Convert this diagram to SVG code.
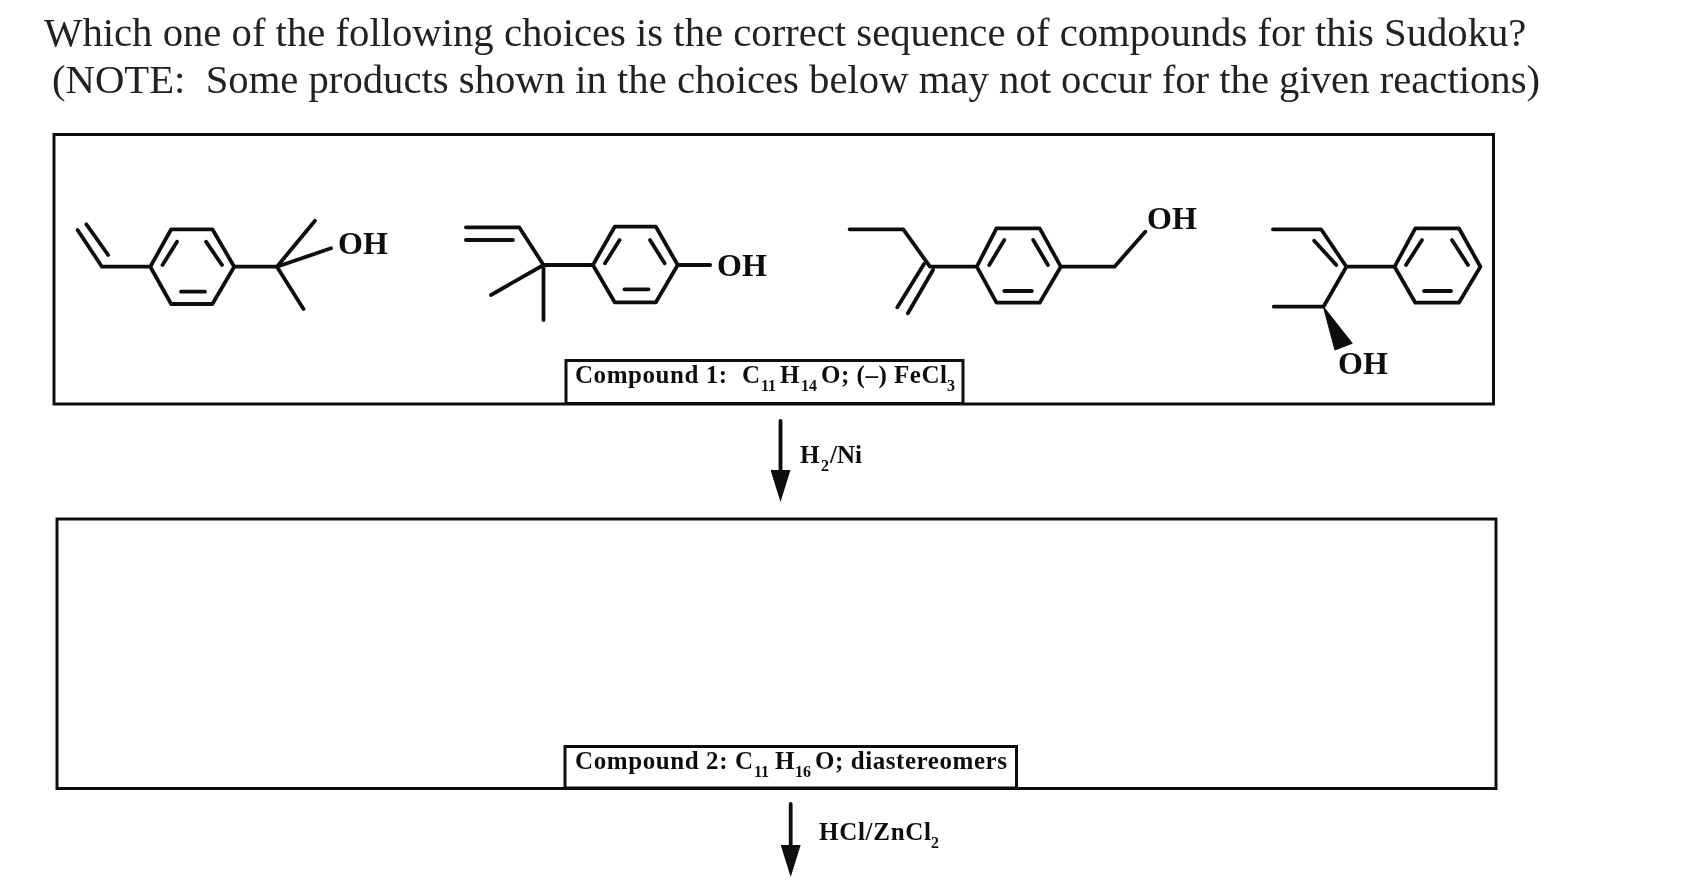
<svg xmlns="http://www.w3.org/2000/svg" width="1702" height="886" viewBox="0 0 1702 886">
<style>
text{font-family:"Liberation Serif","Times New Roman",serif;fill:#111}
.t{font-size:40.7px;fill:#222}
.a{font-size:32px;font-weight:bold}
.l{font-size:25px;font-weight:bold}
.s{font-size:16px;font-weight:bold}
.b{fill:none;stroke:#111;stroke-width:3.8;stroke-linecap:round;stroke-linejoin:round}
.i{fill:none;stroke:#111;stroke-width:3.8;stroke-linecap:round}
.box{fill:#fff;stroke:#111;stroke-width:3}
</style>
<defs>
<marker id="head" markerUnits="userSpaceOnUse" markerWidth="32" markerHeight="20" refX="22" refY="10" orient="auto" viewBox="0 0 32 20"><path d="M0 0L32 10L0 20Z" fill="#111"/></marker>
<filter id="soft" filterUnits="userSpaceOnUse" x="0" y="0" width="1702" height="886"><feGaussianBlur stdDeviation="0.45"/></filter>
</defs>
<rect width="1702" height="886" fill="#fff"/>
<g filter="url(#soft)">
<g id="question">
<text class="t" x="44" y="46">Which one of the following choices is the correct sequence of compounds for this Sudoku?</text>
<text class="t" x="52" y="93" xml:space="preserve">(NOTE:  Some products shown in the choices below may not occur for the given reactions)</text>
</g>
<g id="box-compound-1"><rect class="box" x="54" y="134.5" width="1439.5" height="269.5"/></g>
<g id="box-compound-2"><rect class="box" x="57" y="519" width="1439" height="269.5"/></g>
<g id="molecule-a">
<path class="b" d="M77.6 230L101.9 266.7H150.3L171.2 229.3H212.4L234.2 266.7L212.4 304H171.2L150.3 266.7M234.2 266.7H276.9L315 220.7M276.9 266.7L331 248.3M276.9 266.7L303.5 309"/>
<path class="i" d="M86.4 224.3L108.2 255M162.5 265L177 241.7M206 241.7L222 265M181 291.7H205"/>
<text class="a" x="338" y="254">OH</text>
</g>
<g id="molecule-b">
<path class="b" d="M465.9 227.3H519.2L543.5 265H592.9L614.7 226.7H655.9L677.7 265L655.9 302.3H614.7L592.9 265M677.7 265H710.2M543.5 265L491 295M543.5 265V320"/>
<path class="i" d="M465.9 240H512.9M605 263.3L619.6 240M650 240L664.6 263.3M624.4 289.3H648.6"/>
<text class="a" x="717" y="276">OH</text>
</g>
<g id="molecule-c">
<path class="b" d="M849.6 229.3H903.3L930 266.7H976.8L996.5 228.3H1039.7L1060.8 266.7L1039.7 302.7H996.5L976.8 266.7M1060.8 266.7H1114.5L1145.3 231.7M924 264L897.3 307.3M933 270L907.9 313.3"/>
<path class="i" d="M989.2 265L1004.3 240M1033.2 240L1047.9 265M1004.3 291H1031.9"/>
<text class="a" x="1147" y="229">OH</text>
</g>
<g id="molecule-d">
<path class="b" d="M1272.9 229.3H1321.1L1346.4 266.7H1394.6L1415.3 228.3H1458.9L1480.4 266.7L1458.9 302.7H1415.3L1394.6 266.7M1346.4 266.7L1323.4 306.7H1273.8"/>
<path class="i" d="M1314.2 240.7L1336.3 265M1406 265L1422 240M1452 240L1468 265M1424 291H1451"/>
<path d="M1323.4 306.7L1334.9 350L1352.3 343.3Z" fill="#111" stroke="#111" stroke-linejoin="round"/>
<text class="a" x="1338" y="374">OH</text>
</g>
<g id="label-compound-1">
<rect class="box" x="566" y="360.5" width="397" height="43"/>
<text class="l" x="575" y="383" textLength="152">Compound 1:</text>
<text class="l" x="742" y="383">C</text><text class="s" x="761" y="391">11</text>
<text class="l" x="780" y="383">H</text><text class="s" x="801" y="391">14</text>
<text class="l" x="821" y="383" textLength="126">O; (–) FeCl</text><text class="s" x="947" y="391">3</text>
</g>
<g id="label-compound-2">
<rect class="box" x="565" y="746.5" width="451.5" height="41.5"/>
<text class="l" x="575" y="769" textLength="178">Compound 2: C</text><text class="s" x="754" y="777">11</text>
<text class="l" x="775" y="769">H</text><text class="s" x="795" y="777">16</text>
<text class="l" x="815" y="769" textLength="192">O; diastereomers</text>
</g>
<g id="connectors">
<line class="b" x1="780.5" y1="421" x2="780.5" y2="492" marker-end="url(#head)"/>
<line class="b" x1="790.7" y1="804" x2="790.7" y2="867" marker-end="url(#head)"/>
</g>
<g id="reagent-h2-ni">
<text class="l" x="800" y="463">H</text><text class="s" x="821" y="471">2</text><text class="l" x="830" y="463">/Ni</text>
</g>
<g id="reagent-hcl-zncl2">
<text class="l" x="819" y="840" textLength="112">HCl/ZnCl</text><text class="s" x="931" y="848">2</text>
</g>
</g>
</svg>
